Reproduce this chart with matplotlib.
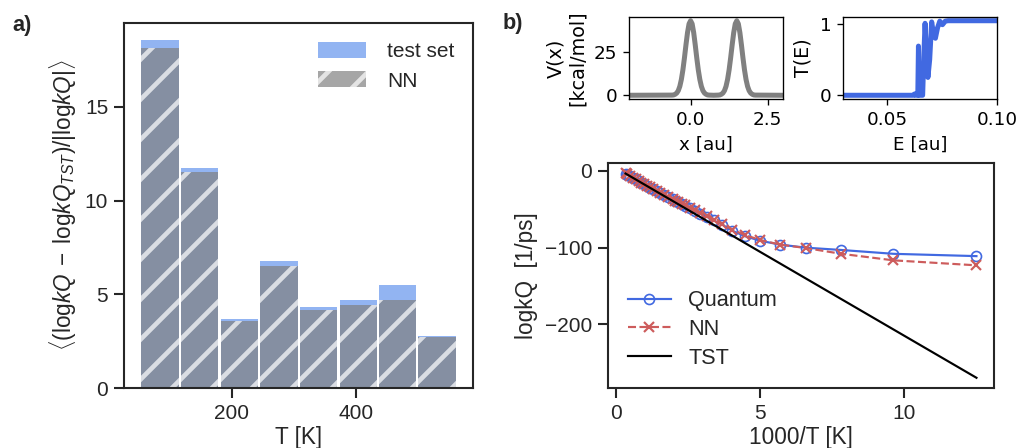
"""
a) relative error of logkQ vs T, b) potential, transmission and rate constants
"""

import matplotlib.pyplot as plt

# ------------- data -------------
# a) error histogram
bar_t = [84, 148, 212, 276, 340, 404, 467, 531]
test_err = [18.55, 11.72, 3.67, 6.78, 4.31, 4.70, 5.47, 2.79]
nn_err = [18.14, 11.52, 3.57, 6.53, 4.14, 4.42, 4.70, 2.72]

# b) double barrier potential
pot_x = [-2.0, -0.6, -0.55, -0.5, -0.45, -0.4, -0.35, -0.3, -0.25, -0.2, -0.15, -0.1, -0.05,
         0.0, 0.05, 0.1, 0.15, 0.2, 0.25, 0.3, 0.35, 0.4, 0.45, 0.5, 0.55, 0.6, 0.75,
         0.9, 0.95, 1.0, 1.05, 1.1, 1.15, 1.2, 1.25, 1.3, 1.35, 1.4, 1.45, 1.5, 1.55,
         1.6, 1.65, 1.7, 1.75, 1.8, 1.85, 1.9, 1.95, 2.0, 2.05, 2.1, 3.0]
pot_v = [0.0, 0.1, 0.2, 0.6, 1.3, 2.7, 5.2, 9.2, 14.8, 21.8, 29.5, 36.6, 41.7,
         43.5, 41.7, 36.6, 29.5, 21.8, 14.8, 9.2, 5.2, 2.7, 1.3, 0.6, 0.2, 0.1, 0.0,
         0.1, 0.2, 0.6, 1.3, 2.7, 5.2, 9.2, 14.8, 21.8, 29.5, 36.6, 41.7, 43.5, 41.7,
         36.6, 29.5, 21.8, 14.8, 9.2, 5.2, 2.7, 1.3, 0.6, 0.2, 0.1, 0.0]

# b) transmission probability
energy = [0.030, 0.0620, 0.0626, 0.0630, 0.0640, 0.0643, 0.0646, 0.0662, 0.0668, 0.0673,
          0.0679, 0.0686, 0.0694, 0.0703, 0.0712, 0.0720, 0.0730, 0.0740, 0.0752, 0.0765,
          0.0778, 0.100]
trans = [0.0, 0.0, 0.02, 0.0, 0.0, 0.69, 0.0, 0.0, 0.6, 1.01,
         0.6, 0.25, 0.5, 1.03, 0.85, 0.80, 0.95, 1.04, 0.99, 1.04,
         1.046, 1.046]

# b) rate constants
inv_t = [0.32, 0.38, 0.47, 0.57, 0.67, 0.77, 0.86, 0.96, 1.06, 1.18, 1.29, 1.42, 1.52,
         1.64, 1.79, 1.95, 2.05, 2.15, 2.27, 2.40, 2.55, 2.72, 2.91, 3.13, 3.38, 3.68,
         4.03, 4.46, 5.00, 5.68, 6.58, 7.81, 9.62, 12.50]
quantum = [-3.4, -4.7, -6.7, -8.9, -11.0, -13.2, -15.2, -17.3, -19.3, -21.7, -24.0, -26.5, -28.5,
           -31.0, -34.0, -37.0, -39.0, -40.8, -43.0, -45.5, -48.5, -52.0, -55.5, -59.5, -64.5, -70.0,
           -78.0, -85.0, -91.0, -96.0, -100.0, -103.0, -108.0, -111.0]
nn = [-3.0, -4.5, -6.6, -8.8, -10.9, -13.0, -15.1, -17.2, -19.1, -21.5, -23.8, -26.2, -28.3,
      -30.8, -33.7, -36.6, -38.7, -40.5, -42.6, -45.0, -48.0, -51.3, -54.8, -58.6, -63.5, -69.0,
      -76.5, -83.5, -90.0, -96.0, -100.5, -108.0, -116.5, -123.0]
tst_x = [0.32, 12.50]
tst_y = [-3.4, -269.5]

# ------------- style -------------
dark = '#262626'
plt.rcParams['font.family'] = ['Liberation Sans', 'DejaVu Sans']
plt.rcParams['mathtext.fontset'] = 'custom'
plt.rcParams['mathtext.rm'] = 'Liberation Sans'
plt.rcParams['mathtext.it'] = 'Liberation Sans:italic'
plt.rcParams['axes.linewidth'] = 1.25
plt.rcParams['axes.edgecolor'] = dark
plt.rcParams['axes.labelcolor'] = dark
plt.rcParams['text.color'] = dark
plt.rcParams['xtick.color'] = dark
plt.rcParams['ytick.color'] = dark
plt.rcParams['xtick.major.size'] = 6
plt.rcParams['ytick.major.size'] = 6
plt.rcParams['xtick.major.width'] = 1.25
plt.rcParams['ytick.major.width'] = 1.25
plt.rcParams['xtick.labelsize'] = 12.5
plt.rcParams['ytick.labelsize'] = 12.5
plt.rcParams['axes.labelsize'] = 13.5
plt.rcParams['legend.fontsize'] = 12.5
plt.rcParams['hatch.linewidth'] = 2.8

W, H = 1018, 448
fig = plt.figure(figsize=(W / 120, H / 120), dpi=120)


def box(l, t, r, b):
    # pixel box -> figure fraction
    return [l / W, 1 - b / H, (r - l) / W, (b - t) / H]


# ------------- a) -------------
ax = fig.add_axes(box(124, 23, 473, 388))
ax.bar(bar_t, test_err, width=60, color='cornflowerblue', alpha=0.7, linewidth=0, label='test set')
ax.bar(bar_t, nn_err, width=60, color='gray', alpha=0.7, edgecolor='white', linewidth=0,
       hatch='/', label='NN')
ax.set_xlim(26, 589)
ax.set_xticks([200, 400])
ax.set_yticks([0, 5, 10, 15])
ax.set_xlabel('T [K]', labelpad=2)
ax.set_ylabel(r'$\langle(\mathrm{log}kQ\;-\;\mathrm{log}kQ_{TST})/|\mathrm{log}kQ|\rangle$',
              fontsize=13.5)
ax.legend(loc='upper right', frameon=False, handlelength=2.3, handleheight=0.8,
          handletextpad=1.0, labelspacing=0.5)
fig.text(12 / W, 1 - 25 / H, 'a)', fontsize=13, fontweight='bold', va='center')
fig.text(503 / W, 1 - 23 / H, 'b)', fontsize=13, fontweight='bold', va='center')


# insets in plain matplotlib look
def plain(a):
    for s in a.spines.values():
        s.set_linewidth(0.8)
        s.set_edgecolor('black')
    a.tick_params(length=3.5, width=0.8, colors='black', labelsize=11)
    for lab in a.get_xticklabels() + a.get_yticklabels():
        lab.set_fontfamily('DejaVu Sans')


ax1 = fig.add_axes(box(629, 17, 783, 99))
ax1.plot(pot_x, pot_v, color='gray', lw=3)
ax1.set_xlim(-2, 3)
ax1.set_xticks([0.0, 2.5])
ax1.set_yticks([0, 25])
ax1.set_xlabel('x [au]', fontsize=11, family='DejaVu Sans', color='black')
ax1.set_ylabel('V(x)\n[kcal/mol]', fontsize=11.5, family='DejaVu Sans', color='black')
plain(ax1)

ax2 = fig.add_axes(box(843, 17, 997, 99))
ax2.plot(energy, trans, color='royalblue', lw=3)
ax2.set_xlim(0.03, 0.10)
ax2.set_xticks([0.05, 0.10])
ax2.set_yticks([0, 1])
ax2.set_xlabel('E [au]', fontsize=11, family='DejaVu Sans', color='black')
ax2.set_ylabel('T(E)', fontsize=11.5, family='DejaVu Sans', color='black')
plain(ax2)

# ------------- b) rates -------------
ax3 = fig.add_axes(box(608, 163, 994, 388))
ax3.plot(inv_t, quantum, color='royalblue', lw=1.3, marker='o', ms=6, mfc='none', mew=1.0,
         label='Quantum')
ax3.plot(inv_t, nn, color='indianred', lw=1.3, ls='--', marker='x', ms=6, mew=1.3, label='NN')
ax3.plot(tst_x, tst_y, color='black', lw=1.3, label='TST')
ax3.set_xticks([0, 5, 10])
ax3.set_yticks([0, -100, -200])
ax3.set_xlabel('1000/T [K]', labelpad=2)
ax3.set_ylabel('logkQ  [1/ps]')
ax3.legend(loc='lower left', frameon=False, fontsize=13, labelspacing=0.35)

fig.savefig('out.png', dpi=120)
